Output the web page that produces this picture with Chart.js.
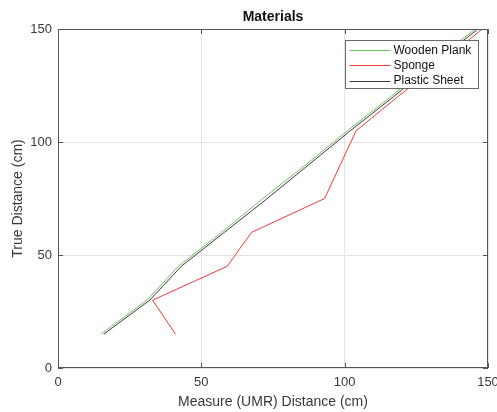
<!DOCTYPE html>
<html>
<head>
<meta charset="utf-8">
<script src="https://cdn.jsdelivr.net/npm/chart.js@4/dist/chart.umd.min.js"></script>
<style>
  html, body { margin: 0; padding: 0; background: #fff; }
  #wrap { width: 497px; height: 412px; }
</style>
</head>
<body>
<div id="wrap"><canvas id="c" width="497" height="412"></canvas></div>
<script>
// Measured distances (UMR) against true distance for each surface material
const trueDistance = [15, 30, 45, 60, 75, 90, 105, 120, 135, 150];
const woodenPlank  = [15, 31, 42, 57, 71.5, 86.5, 101, 116, 130.5, 145.5];
const sponge       = [41, 33, 59, 67.5, 93, 98.5, 104, 118.5, 133.5, 148];
const plasticSheet = [16, 32, 43, 58, 73, 87.5, 102, 117, 131.5, 146.5];

const seriesNames = ['Wooden Plank', 'Sponge', 'Plastic Sheet'];
const seriesColors = ['#6cc45a', '#ee3b3b', '#3a3a3a'];
const axisTicks = [0, 50, 100, 150];

const pairs = xs => xs.map((x, i) => ({ x: x, y: trueDistance[i] }));

const FONT = "'Liberation Sans', Arial, sans-serif";
const TEXT = '#383838';

// Axes box, inward tick marks, title and legend drawn in MATLAB style
const decorations = {
  id: 'decorations',
  afterDatasetsDraw(chart) {
    const { ctx, chartArea: a, scales } = chart;
    ctx.save();
    ctx.strokeStyle = '#555555';
    ctx.lineWidth = 1;
    ctx.strokeRect(a.left + 0.5, a.top + 0.5, a.right - a.left - 1, a.bottom - a.top - 1);

    const len = 5;
    ctx.beginPath();
    axisTicks.forEach(v => {
      const px = Math.round(scales.x.getPixelForValue(v)) + 0.5;
      ctx.moveTo(px, a.bottom); ctx.lineTo(px, a.bottom - len);
      ctx.moveTo(px, a.top); ctx.lineTo(px, a.top + len);
      const py = Math.round(scales.y.getPixelForValue(v)) + 0.5;
      ctx.moveTo(a.left, py); ctx.lineTo(a.left + len, py);
      ctx.moveTo(a.right, py); ctx.lineTo(a.right - len, py);
    });
    ctx.stroke();

    // title, centred over the axes
    ctx.fillStyle = '#111111';
    ctx.font = 'bold 14px ' + FONT;
    ctx.textAlign = 'center';
    ctx.textBaseline = 'middle';
    ctx.fillText('Materials', (a.left + a.right) / 2, 17);

    // legend box in the upper right corner
    const bx = 345.5, by = 40.5, bw = 133, bh = 48;
    ctx.fillStyle = '#ffffff';
    ctx.fillRect(bx, by, bw, bh);
    ctx.strokeStyle = '#6a6a6a';
    ctx.strokeRect(bx, by, bw, bh);
    ctx.font = '12px ' + FONT;
    ctx.textAlign = 'left';
    chart.data.datasets.forEach((ds, i) => {
      const yy = by + 9.5 + i * 15.3;
      ctx.strokeStyle = ds.borderColor;
      ctx.lineWidth = 1;
      ctx.beginPath();
      ctx.moveTo(bx + 4, Math.round(yy) + 0.5);
      ctx.lineTo(bx + 45, Math.round(yy) + 0.5);
      ctx.stroke();
      ctx.fillStyle = '#111111';
      ctx.fillText(ds.label, bx + 48, yy + 0.5);
    });
    ctx.restore();
  }
};

new Chart(document.getElementById('c'), {
  type: 'scatter',
  data: {
    datasets: [woodenPlank, sponge, plasticSheet].map((xs, i) => ({
      label: seriesNames[i],
      data: pairs(xs),
      showLine: true,
      borderColor: seriesColors[i],
      backgroundColor: seriesColors[i],
      borderWidth: 1,
      pointRadius: 0,
      tension: 0
    }))
  },
  options: {
    responsive: false,
    animation: false,
    devicePixelRatio: 1,
    layout: { padding: { top: 29, right: 9, left: 0, bottom: 0 } },
    plugins: { legend: { display: false }, tooltip: { enabled: false }, title: { display: false } },
    scales: {
      x: {
        type: 'linear', min: 0, max: 150,
        afterBuildTicks: s => { s.ticks = axisTicks.map(v => ({ value: v })); },
        afterFit: s => { s.height = 44; s.paddingRight = 0; s.paddingLeft = 0; },
        grid: { color: '#e4e4e4', drawTicks: false, lineWidth: 1 },
        border: { display: false },
        ticks: { padding: 7, color: TEXT, font: { family: FONT, size: 13 }, maxRotation: 0 },
        title: { display: true, text: 'Measure (UMR) Distance (cm)', color: TEXT,
                 font: { family: FONT, size: 14 }, padding: { top: 0, bottom: 1 } }
      },
      y: {
        type: 'linear', min: 0, max: 150,
        afterBuildTicks: s => { s.ticks = axisTicks.map(v => ({ value: v })); },
        afterFit: s => { s.width = 58; },
        grid: { color: '#e4e4e4', drawTicks: false, lineWidth: 1 },
        border: { display: false },
        ticks: { padding: 6, color: TEXT, font: { family: FONT, size: 13 } },
        title: { display: true, text: 'True Distance (cm)', color: TEXT,
                 font: { family: FONT, size: 14 }, padding: { top: 10, bottom: 0 } }
      }
    }
  },
  plugins: [decorations]
});
</script>
</body>
</html>
